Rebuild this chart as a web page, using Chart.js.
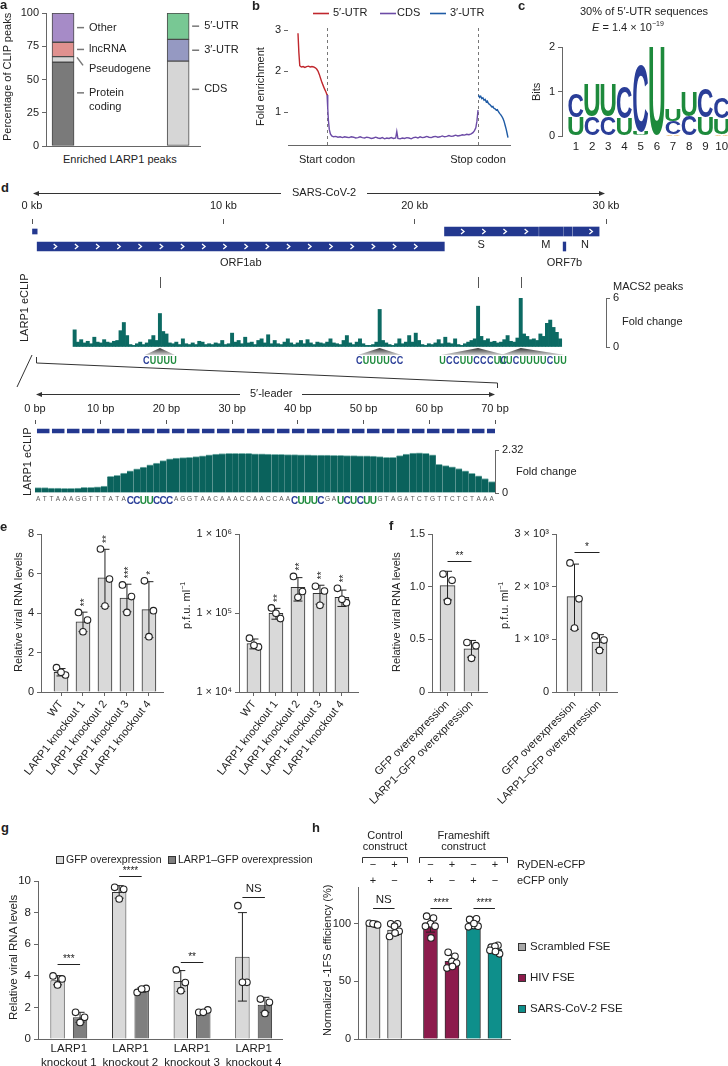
<!DOCTYPE html>
<html>
<head>
<meta charset="utf-8">
<script src="https://cdn.jsdelivr.net/npm/chart.js@4.4.1/dist/chart.umd.min.js"></script>
<style>
  body { margin: 0; background: #fff; }
  #fig { position: relative; width: 728px; height: 1066px; overflow: hidden; background: #fff;
         font-family: 'Liberation Sans', Arial, sans-serif; color: #222; }
  #fig canvas, #fig svg { position: absolute; }
  .t { position: absolute; white-space: nowrap; font-size: 11px; line-height: 1; }
  .t sup { font-size: 7px; }
</style>
</head>
<body>
<div id="fig"><svg id="deco" width="728" height="1066" style="left:0;top:0"></svg></div>
<script>
// ---------- a: enriched LARP1 peaks (% of CLIP peaks) ----------
const aLeftNames = ['Protein coding', 'Pseudogene', 'lncRNA', 'Other'];
const aLeftValues = [63, 4.2, 10.8, 22];
const aRightNames = ['CDS', '3′-UTR', '5′-UTR'];
const aRightValues = [63.8, 16.4, 19.8];

// ---------- b: metagene fold enrichment, [position %, value] ----------
const bCodonNames = ['Start codon', 'Stop codon'];
const bCodonPos = [17.6, 85.6];
const bUtr5 = [[4.5, 2.92], [4.9, 2.45], [5.3, 2.13], [6.0, 2.1], [6.8, 2.11], [7.6, 2.09], [8.4, 2.11], [9.2, 2.12],
  [10.0, 2.1], [10.8, 2.11], [11.6, 2.1], [12.3, 2.08], [12.9, 2.05], [13.5, 2.0], [14.1, 1.92], [14.7, 1.82],
  [15.3, 1.72], [15.9, 1.64], [16.5, 1.56], [17.1, 1.49], [17.6, 1.42]];
const bCds = [[17.6, 1.42], [17.9, 1.1], [18.2, 0.8], [18.6, 0.58], [19.1, 0.47], [19.7, 0.42], [20.5, 0.4], [21.5, 0.41],
  [22.5, 0.39], [23.5, 0.4], [24.5, 0.38], [25.5, 0.4], [26.5, 0.39], [27.5, 0.38], [28.5, 0.4], [29.5, 0.39],
  [30.5, 0.37], [31.5, 0.38], [32.5, 0.4], [33.5, 0.38], [34.5, 0.37], [35.5, 0.39], [36.5, 0.38], [37.5, 0.36],
  [38.5, 0.37], [39.5, 0.39], [40.5, 0.37], [41.5, 0.36], [42.5, 0.38], [43.5, 0.35], [44.5, 0.37], [45.5, 0.36],
  [46.5, 0.38], [47.5, 0.36], [48.5, 0.37], [49.0, 0.53], [49.5, 0.36], [50.5, 0.35], [51.5, 0.37], [52.5, 0.36],
  [53.5, 0.38], [54.5, 0.37], [55.5, 0.35], [56.5, 0.38], [57.5, 0.39], [58.5, 0.37], [59.5, 0.4], [60.5, 0.38],
  [61.5, 0.39], [62.5, 0.41], [63.5, 0.39], [64.5, 0.38], [65.5, 0.4], [66.5, 0.41], [67.5, 0.39], [68.5, 0.4],
  [69.5, 0.42], [70.5, 0.4], [71.5, 0.41], [72.5, 0.43], [73.5, 0.41], [74.5, 0.42], [75.5, 0.44], [76.5, 0.42],
  [77.5, 0.43], [78.5, 0.45], [79.5, 0.44], [80.5, 0.46], [81.5, 0.45], [82.5, 0.47], [83.3, 0.5], [84.0, 0.55],
  [84.6, 0.62], [85.1, 0.78], [85.6, 1.05]];
const bUtr3 = [[85.8, 1.42], [86.3, 1.36], [86.8, 1.39], [87.3, 1.33], [87.8, 1.35], [88.3, 1.29], [88.8, 1.31],
  [89.3, 1.25], [89.8, 1.27], [90.3, 1.21], [90.8, 1.19], [91.3, 1.16], [91.8, 1.13], [92.3, 1.14], [92.8, 1.09],
  [93.3, 1.08], [93.8, 1.05], [94.3, 1.06], [94.8, 1.01], [95.3, 0.97], [95.8, 0.94], [96.3, 0.9], [96.8, 0.85],
  [97.3, 0.78], [97.8, 0.68], [98.3, 0.58], [98.7, 0.48], [99.1, 0.38]];

// ---------- c: motif logo (bits), three stacked layers per position ----------
const logoBottomLetter = ['U', 'C', 'C', 'U', 'U', 'U', 'A', 'C', 'U', 'A'];
const logoBottomBits = [0.43, 0.43, 0.43, 0.40, 0.10, 2.0, 0.03, 0.45, 0.42, 0.03];
const logoMidLetter = ['C', 'U', 'U', 'C', 'C', '', 'C', 'U', 'C', 'U'];
const logoMidBits = [0.52, 0.74, 0.72, 0.70, 1.50, 0, 0.30, 0.55, 0.65, 0.36];
const logoTopLetter = ['', '', '', '', '', '', 'U', '', '', 'C'];
const logoTopBits = [0, 0, 0, 0, 0, 0, 0.27, 0, 0, 0.48];

// ---------- d: SARS-CoV-2 genome eCLIP ----------
const covBinKb = 0.2;
const covFold = [2.1, 0.6, 0.9, 0.5, 0.7, 0.4, 1.2, 0.6, 0.5, 0.9,
  0.6, 0.5, 0.7, 0.8, 2.0, 3.0, 1.4, 0.3, 0.2, 0.4,
  0.6, 0.3, 0.5, 0.9, 1.4, 0.8, 4.1, 1.9, 1.6, 0.5,
  0.4, 0.6, 0.3, 1.0, 0.4, 0.3, 0.5, 0.3, 0.7, 0.6,
  0.3, 0.4, 0.3, 0.5, 0.4, 0.8, 0.3, 0.4, 1.7, 0.6,
  0.8, 0.4, 1.2, 0.5, 0.6, 0.3, 0.8, 1.0, 0.5, 1.5,
  0.4, 0.8, 0.4, 0.3, 0.6, 1.0, 0.5, 0.3, 0.5, 0.8,
  0.4, 0.9, 0.5, 0.3, 0.6, 0.5, 0.4, 0.6, 1.0, 0.5,
  0.4, 0.3, 0.8, 1.4, 0.5, 0.3, 0.6, 1.0, 0.4, 0.2,
  0.2, 0.3, 0.6, 4.6, 0.8, 0.5, 0.3, 0.2, 0.4, 1.0,
  0.4, 0.6, 1.4, 0.6, 1.7, 0.8, 0.3, 0.2, 0.4, 0.3,
  0.5, 0.9, 0.4, 1.2, 0.5, 0.4, 1.0, 0.3, 0.2, 0.4,
  0.6, 0.8, 1.0, 5.0, 1.3, 0.8, 1.0, 0.6, 0.7, 0.5,
  0.6, 0.9, 1.4, 0.7, 0.6, 1.1, 6.0, 1.6, 1.3, 0.9,
  1.0, 0.8, 1.6, 1.3, 2.9, 3.3, 2.4, 1.8, 1.0];
const macsPeaksKb = [5.3, 24.7, 27.3];
const motifText = ['CUUUU', 'CUUUUCC', 'UCCUUCCCUC', 'UUCUUUUCUU'];
const motifPeakKb = [5.3, 18.7, 24.7, 27.3];
const motifTextKb = [5.3, 18.7, 24.4, 28.05];
const featStart = [0, 0.27, 21.56, 26.52, 27.8, 28.27, 27.76];
const featEnd = [0.27, 21.55, 26.47, 27.76, 28.22, 29.64, 27.9];
const featRow = ['top', 'bottom', 'top', 'top', 'top', 'top', 'bottom'];
const featThin = [true, false, false, false, false, false, false];
const geneNames = ['ORF1ab', 'S', 'M', 'ORF7b', 'N'];
const geneStart = [0.27, 21.56, 26.52, 27.76, 28.27];
const geneEnd = [21.55, 25.38, 27.19, 27.89, 29.53];
const geneRow = [1, 0, 0, 1, 0];

// ---------- d: 5'-leader ----------
const leaderSeq = 'ATTAAAGGTTTATA' + 'CCUUCCC' + 'AGGTAACAAACCAACCAA' + 'CUUUC' + 'GA' + 'UCUCUU' + 'GTAGATCTGTTCTCTAAA';
const leaderMotifs = [[14, 20], [39, 43], [46, 51]];
const leaderSpanBp = [0.3, 70];
const leaderCov = [0.29, 0.29, 0.27, 0.26, 0.25, 0.25, 0.27, 0.3, 0.31, 0.33, 0.37,
  0.9, 0.96, 1.08, 1.2, 1.3, 1.4, 1.52, 1.62, 1.75, 1.84, 1.88, 1.91, 1.93, 1.96, 2.0, 2.06, 2.1, 2.13,
  2.14, 2.14, 2.14, 2.14, 2.12, 2.11, 2.1, 2.09, 2.08, 2.07, 2.07, 2.06, 2.06, 2.05, 2.05, 2.04, 2.03,
  2.03, 2.02, 2.02, 2.01, 2.0, 1.99, 1.96, 1.92, 1.92, 2.02, 2.1, 2.16, 2.17, 2.14, 2.06,
  1.55, 1.48, 1.41, 1.32, 1.2, 1.06, 0.92, 0.78, 0.62];

// ---------- e ----------
const eCategories = ['WT', 'LARP1 knockout 1', 'LARP1 knockout 2', 'LARP1 knockout 3', 'LARP1 knockout 4'];
const eRnaMeans = [1.0, 3.55, 5.78, 4.76, 4.17];
const eRnaPoints = [[1.23, 0.86, 1.0], [4.03, 3.64, 3.05], [7.24, 5.72, 4.35], [5.42, 4.83, 4.03], [5.63, 4.12, 2.8]];
const eRnaStars = ['', '**', '**', '***', '*'];
const ePfuMeans = [41000, 99000, 211000, 177000, 158000];
const ePfuPoints = [[48000, 37000, 39000], [116000, 85000, 99000], [290000, 187000, 158000],
  [218000, 190000, 125000], [205000, 135000, 149000]];
const ePfuStars = ['', '**', '**', '**', '**'];

// ---------- f ----------
const fCategories = ['GFP overexpression', 'LARP1–GFP overexpression'];
const fRnaMeans = [1.01, 0.41];
const fRnaPoints = [[1.12, 1.06, 0.86], [0.47, 0.44, 0.32]];
const fPfuMeans = [1810, 947];
const fPfuPoints = [[2450, 1770, 1215], [1065, 985, 790]];
const fSigText = ['**', '*'];
const fSigAt = [1.24, 2650];

// ---------- g ----------
const gCategories = [['LARP1', 'knockout 1'], ['LARP1', 'knockout 2'], ['LARP1', 'knockout 3'], ['LARP1', 'knockout 4']];
const gSeries = ['GFP overexpression', 'LARP1–GFP overexpression'];
const gGfpMeans = [3.72, 9.31, 3.67, 5.2];
const gGfpPoints = [[3.99, 3.8, 3.42], [9.6, 9.47, 8.86], [4.37, 3.57, 3.06], [8.44, 3.59, 3.59]];
const gLarpMeans = [1.37, 3.1, 1.74, 2.16];
const gLarpPoints = [[1.69, 1.37, 1.05], [2.95, 3.2, 3.16], [1.69, 1.84, 1.69], [2.53, 2.32, 1.62]];
const gSigText = ['***', '****', '**', 'NS'];
const gSigAt = [4.75, 10.3, 4.85, 9.0];

// ---------- h ----------
const hFse = ['Scrambled FSE', 'HIV FSE', 'SARS-CoV-2 FSE'];
const hBarFse = [0, 0, 1, 1, 2, 2];
const hRyden = ['−', '+', '−', '+', '−', '+'];
const hEcfp = ['+', '−', '+', '−', '+', '−'];
const hMeans = [99.5, 94.5, 99.5, 67.5, 100, 78];
const hPoints = [[100.5, 99.5, 100, 99], [100, 100, 98, 93.5, 89, 92], [106.7, 105, 100, 98, 98, 87.8],
  [75.3, 71.8, 67.4, 66, 61.6, 63], [103.8, 104.4, 98.5, 98, 97.4, 100.3], [79.7, 81.4, 80.5, 74, 77, 76]];
const hConstructs = [{ name: ['Control', 'construct'], from: 0, to: 1 }, { name: ['Frameshift', 'construct'], from: 2, to: 5 }];
const hSigPairs = [[0, 1], [2, 3], [4, 5]];
const hSigText = ['NS', '****', '****'];
const hSigAt = 114;

// ================= drawing =================
const FONT = "'Liberation Sans', Arial, sans-serif";
const AX = '#666';
const C_BLUE = '#2a3e98', U_GREEN = '#1d8a3c';
const TEAL = '#0c6a63';
Chart.defaults.font.family = FONT;
Chart.defaults.font.size = 11;
Chart.defaults.color = '#222';
Chart.defaults.animation = false;
Chart.defaults.events = [];
Chart.defaults.plugins.legend.display = false;
Chart.defaults.plugins.tooltip.enabled = false;

const fig = document.getElementById('fig');
const svg = document.getElementById('deco');

// canvas at box [left, top, w, h]; plot area pinned at [left, top, right, bottom] (page px)
function place(box, plot, axes, config) {
  const cv = document.createElement('canvas');
  cv.width = box[2]; cv.height = box[3];
  cv.style.left = box[0] + 'px'; cv.style.top = box[1] + 'px';
  cv.style.width = box[2] + 'px'; cv.style.height = box[3] + 'px';
  fig.appendChild(cv);
  const size = { left: plot[0] - box[0], top: plot[1] - box[1], right: box[0] + box[2] - plot[2], bottom: box[1] + box[3] - plot[3] };
  const pad = { left: 0, top: 0, right: 0, bottom: 0 };
  ['left', 'top', 'right', 'bottom'].forEach(side => {
    const id = axes[side];
    if (!id) { pad[side] = size[side]; return; }
    config.options.scales[id].afterFit = s => {
      if (side === 'left' || side === 'right') s.width = size[side]; else s.height = size[side];
      s.paddingLeft = s.paddingRight = s.paddingTop = s.paddingBottom = 0;
    };
  });
  config.options.layout = { padding: pad, autoPadding: false };
  config.options.responsive = false;
  config.options.devicePixelRatio = 1;
  return new Chart(cv, config);
}

const NO_GRID = { display: false, drawTicks: false };
function axis(extra, ticks) {
  return Object.assign({
    border: { color: AX },
    grid: { drawOnChartArea: false, tickLength: 4, color: AX, offset: false },
    ticks: Object.assign({ padding: 3 }, ticks || {})
  }, extra);
}
function catX(labels, min, max, rot) {
  return axis({ type: 'linear', min, max, offset: false,
    afterBuildTicks: s => { s.ticks = labels.map((l, i) => ({ value: i })); } },
    { callback: v => labels[v], autoSkip: false, maxRotation: rot, minRotation: rot, padding: 2 });
}
function sd(a) {
  const m = a.reduce((p, c) => p + c, 0) / a.length;
  return Math.sqrt(a.reduce((p, c) => p + (c - m) * (c - m), 0) / (a.length - 1));
}
function dots(groups, xOf, unitPx, jit) {
  const out = [];
  groups.forEach((g, i) => g.forEach((v, k) => out.push({ x: xOf(i) + jit[k % jit.length] / unitPx, y: v })));
  return out;
}
const jit3 = [-4.5, 4.5, 0];
const jit6 = [-3.8, 3, 0, 4.6, -5, 0.5];
// dots are drawn above the bars (lower order is painted last)
const dotStyle = { type: 'scatter', order: 0, pointRadius: 3.3, pointBackgroundColor: '#fff', pointBorderColor: '#222', pointBorderWidth: 1.1 };
const barStyle = { order: 1, backgroundColor: '#d9d9d9', borderColor: '#333', borderWidth: 1 };

function errPlugin(ds, groups) {
  return { id: 'err' + ds, afterDatasetDraw(chart, args) {
    if (args.index !== ds) return;
    const ys = chart.scales.y, ctx = chart.ctx;
    ctx.save(); ctx.strokeStyle = '#222'; ctx.lineWidth = 1;
    chart.getDatasetMeta(ds).data.forEach((el, i) => {
      const m = chart.data.datasets[ds].data[i].y, s = sd(groups[i]);
      const top = ys.getPixelForValue(m + s), bot = ys.getPixelForValue(Math.max(m - s, ys.min));
      ctx.beginPath();
      ctx.moveTo(el.x, bot); ctx.lineTo(el.x, top);
      ctx.moveTo(el.x - 4.5, top); ctx.lineTo(el.x + 4.5, top);
      ctx.moveTo(el.x - 4.5, bot); ctx.lineTo(el.x + 4.5, bot);
      ctx.stroke();
    });
    ctx.restore();
  }};
}
function starPlugin(ds, groups, marks) {
  return { id: 'stars', afterDraw(chart) {
    const ctx = chart.ctx, ys = chart.scales.y;
    ctx.save(); ctx.fillStyle = '#222'; ctx.font = '10px ' + FONT; ctx.textAlign = 'left'; ctx.textBaseline = 'middle';
    chart.getDatasetMeta(ds).data.forEach((el, i) => {
      if (!marks[i]) return;
      const m = chart.data.datasets[ds].data[i].y;
      const top = Math.max(Math.max(...groups[i]), m + sd(groups[i]));
      ctx.save(); ctx.translate(el.x + 2, ys.getPixelForValue(top) - 6); ctx.rotate(-Math.PI / 2);
      ctx.fillText(marks[i], 0, 0); ctx.restore();
    });
    ctx.restore();
  }};
}
function sigPlugin(items) {
  return { id: 'sig', afterDraw(chart) {
    const ctx = chart.ctx, xs = chart.scales.x, ys = chart.scales.y;
    ctx.save(); ctx.strokeStyle = '#222'; ctx.fillStyle = '#222'; ctx.lineWidth = 1;
    ctx.textAlign = 'center'; ctx.textBaseline = 'bottom';
    items.forEach(s => {
      const x0 = xs.getPixelForValue(s.x0), x1 = xs.getPixelForValue(s.x1);
      const y = Math.round(ys.getPixelForValue(s.at)) + 0.5;
      ctx.beginPath(); ctx.moveTo(x0, y); ctx.lineTo(x1, y); ctx.stroke();
      ctx.font = (s.text === 'NS' ? '11.5px ' : '10px ') + FONT;
      ctx.fillText(s.text, (x0 + x1) / 2, y - (s.text === 'NS' ? 3 : 0));
    });
    ctx.restore();
  }};
}

// ---------- a ----------
const aLeftColors = ['#7a7a7a', '#d5d5d5', '#e0918f', '#a68bc7'];
const aRightColors = ['#d6d6d6', '#9599c2', '#78c894'];
const aLabels = { id: 'alab', afterDatasetsDraw(chart) {
  const ctx = chart.ctx;
  ctx.save();
  ctx.font = '11px ' + FONT; ctx.fillStyle = '#222'; ctx.textBaseline = 'middle';
  ctx.strokeStyle = '#777'; ctx.lineWidth = 1.5;
  chart.data.datasets.forEach((ds, i) => {
    const el = chart.getDatasetMeta(i).data[0];
    const mid = (el.y + el.base) / 2, r = el.x + el.width / 2;
    let ty = mid;
    ctx.beginPath();
    if (ds.label === 'Pseudogene') { ctx.moveTo(r + 3, mid - 2); ctx.lineTo(r + 9, mid + 6); ty = mid + 10; }
    else {
      if (ds.label === 'Protein coding') ty = mid - 11;
      if (ds.label === 'CDS') ty = mid - 14;
      ctx.moveTo(r + 3, ty); ctx.lineTo(r + 10, ty);
    }
    ctx.stroke();
    const lines = ds.label === 'Protein coding' ? ['Protein', 'coding'] : [ds.label];
    lines.forEach((s, k) => ctx.fillText(s, r + 15, ty + k * 14));
  });
  ctx.restore();
}};
place([0, 0, 240, 152], [46, 13, 200, 146], { left: 'y', bottom: 'x' }, {
  type: 'bar',
  data: { datasets: [
    ...aLeftValues.map((v, i) => ({ label: aLeftNames[i], data: [{ x: 1, y: v }], backgroundColor: aLeftColors[i] })),
    ...aRightValues.map((v, i) => ({ label: aRightNames[i], data: [{ x: 2, y: v }], backgroundColor: aRightColors[i] }))
  ]},
  options: {
    datasets: { bar: { barThickness: 22, borderColor: '#4a4a4a', borderWidth: 1, borderSkipped: false } },
    scales: {
      x: { type: 'linear', min: 0.852, max: 2.19, stacked: true, offset: false, ticks: { display: false }, grid: NO_GRID, border: { color: AX } },
      y: axis({ stacked: true, min: 0, max: 100 }, { stepSize: 25 })
    }
  },
  plugins: [aLabels]
});

// ---------- b ----------
const codonLines = { id: 'codon', beforeDatasetsDraw(chart) {
  const ctx = chart.ctx, xs = chart.scales.x, a = chart.chartArea;
  ctx.save(); ctx.strokeStyle = '#777'; ctx.lineWidth = 1; ctx.setLineDash([3, 3]);
  bCodonPos.forEach(p => { const x = Math.round(xs.getPixelForValue(p)) + 0.5; ctx.beginPath(); ctx.moveTo(x, a.top); ctx.lineTo(x, a.bottom); ctx.stroke(); });
  ctx.restore();
}};
const toXY = p => ({ x: p[0], y: p[1] });
place([235, 0, 285, 172], [288, 28, 510, 145], { left: 'y', bottom: 'x' }, {
  type: 'line',
  data: { datasets: [
    { data: bUtr5.map(toXY), borderColor: '#c0272d' },
    { data: bCds.map(toXY), borderColor: '#6c4ba6' },
    { data: bUtr3.map(toXY), borderColor: '#1f5ba5' }
  ]},
  options: {
    elements: { point: { radius: 0 }, line: { borderWidth: 1.4, tension: 0 } },
    scales: {
      x: { type: 'linear', min: 0, max: 100,
        afterBuildTicks: s => { s.ticks = bCodonPos.map(v => ({ value: v })); },
        ticks: { callback: (v, i) => bCodonNames[i], padding: 8, maxRotation: 0, autoSkip: false },
        grid: NO_GRID, border: { color: AX } },
      y: { min: 0.2, max: 3.05,
        afterBuildTicks: s => { s.ticks = [1, 2, 3].map(v => ({ value: v })); },
        border: { display: false }, grid: { drawOnChartArea: false, tickLength: 4, color: AX }, ticks: { padding: 3 } }
    }
  },
  plugins: [codonLines]
});

// ---------- c ----------
const logoLayers = [[logoBottomLetter, logoBottomBits], [logoMidLetter, logoMidBits], [logoTopLetter, logoTopBits]];
const logoColors = { C: C_BLUE, U: U_GREEN, A: '#e6a23a', G: '#e6a23a' };
const logoGlyphs = { id: 'logo', afterDatasetsDraw(chart) {
  const ctx = chart.ctx;
  ctx.save();
  ctx.font = 'bold 100px ' + FONT; ctx.textAlign = 'left'; ctx.textBaseline = 'alphabetic';
  logoLayers.forEach(([letters], d) => {
    chart.getDatasetMeta(d).data.forEach((el, i) => {
      const L = letters[i]; if (!L) return;
      const h = el.base - el.y; if (h < 0.5) return;
      const m = ctx.measureText(L);
      const gw = m.actualBoundingBoxLeft + m.actualBoundingBoxRight;
      const gh = m.actualBoundingBoxAscent + m.actualBoundingBoxDescent;
      ctx.save();
      ctx.translate(el.x - el.width / 2, el.y);
      ctx.scale(el.width / gw, h / gh);
      ctx.fillStyle = logoColors[L];
      ctx.fillText(L, m.actualBoundingBoxLeft, m.actualBoundingBoxAscent);
      ctx.restore();
    });
  });
  ctx.restore();
}};
place([515, 0, 213, 155], [562, 47, 727, 136], { left: 'y', bottom: 'x' }, {
  type: 'bar',
  data: { datasets: logoLayers.map(([letters, bits]) => ({
    data: bits.map((b, i) => ({ x: i + 1, y: b })), backgroundColor: 'rgba(0,0,0,0)', barThickness: 15 })) },
  options: {
    scales: {
      x: { type: 'linear', min: 0.143, max: 10.33, stacked: true, offset: false,
        afterBuildTicks: s => { s.ticks = logoBottomBits.map((b, i) => ({ value: i + 1 })); },
        grid: NO_GRID, border: { display: false },
        ticks: { padding: 4, autoSkip: false, maxRotation: 0, minRotation: 0, font: { size: 11.5 } } },
      y: axis({ stacked: true, min: 0, max: 2 }, { stepSize: 1 })
    }
  },
  plugins: [logoGlyphs]
});

// ---------- d: gene track ----------
const geneDecor = { id: 'genes', afterDatasetsDraw(chart) {
  const ctx = chart.ctx, xs = chart.scales.x, ys = chart.scales.y;
  ctx.save();
  ctx.strokeStyle = '#fff'; ctx.lineWidth = 1.3;
  chart.getDatasetMeta(1).data.forEach(el => {
    const l = Math.min(el.x, el.base), r = Math.max(el.x, el.base);
    for (let x = l + 18; x < r - 8; x += 21.2) {
      ctx.beginPath(); ctx.moveTo(x - 1.5, el.y - 2.5); ctx.lineTo(x + 1.5, el.y); ctx.lineTo(x - 1.5, el.y + 2.5); ctx.stroke();
    }
  });
  ctx.fillStyle = '#222'; ctx.font = '11px ' + FONT; ctx.textAlign = 'center'; ctx.textBaseline = 'middle';
  geneNames.forEach((n, i) => {
    const x = xs.getPixelForValue((geneStart[i] + geneEnd[i]) / 2);
    const y = ys.getPixelForValue(geneRow[i] + 1) + (geneRow[i] === 0 ? -2 : 1.5);
    ctx.fillText(n, x, y);
  });
  ctx.restore();
}};
const featData = thin => featStart.map((s, i) => ({ x: [s, featEnd[i]], y: featRow[i], thin: featThin[i] }))
  .filter(f => f.thin === thin).map(f => ({ x: f.x, y: f.y }));
place([0, 200, 728, 75], [32, 224, 606, 254], { top: 'x' }, {
  type: 'bar',
  data: { labels: ['top', 'bottom'], datasets: [
    { data: featData(true), backgroundColor: '#23388f', barThickness: 5, grouped: false },
    { data: featData(false), backgroundColor: '#23388f', barThickness: 9, grouped: false }
  ]},
  options: {
    indexAxis: 'y',
    scales: {
      x: { type: 'linear', position: 'top', min: 0, max: 30,
        ticks: { stepSize: 10, callback: v => v + ' kb', padding: 6, maxRotation: 0 },
        grid: { drawOnChartArea: false, tickLength: 5, color: '#555' }, border: { display: false } },
      y: { type: 'category', display: false }
    }
  },
  plugins: [geneDecor]
});

// ---------- d: genome coverage ----------
const covDecor = { id: 'cov', afterDraw(chart) {
  const ctx = chart.ctx, xs = chart.scales.x, a = chart.chartArea;
  ctx.save();
  ctx.strokeStyle = '#555'; ctx.lineWidth = 1;
  macsPeaksKb.forEach(k => {
    const x = Math.round(xs.getPixelForValue(k)) + 0.5;
    ctx.beginPath(); ctx.moveTo(x, a.top - 21); ctx.lineTo(x, a.top - 10); ctx.stroke();
  });
  motifText.forEach((m, i) => {
    const px = xs.getPixelForValue(motifPeakKb[i]), cx = xs.getPixelForValue(motifTextKb[i]);
    const adv = 6.8, w = m.length * adv, l = cx - w / 2;
    const g = ctx.createLinearGradient(0, a.bottom + 1, 0, a.bottom + 8);
    g.addColorStop(0, '#333'); g.addColorStop(1, '#d4d4d4');
    ctx.fillStyle = g;
    ctx.beginPath(); ctx.moveTo(px, a.bottom + 1); ctx.lineTo(l + 2, a.bottom + 8); ctx.lineTo(l + w - 2, a.bottom + 8); ctx.closePath(); ctx.fill();
    ctx.font = 'bold 11px ' + FONT; ctx.textAlign = 'center'; ctx.textBaseline = 'middle';
    m.split('').forEach((c, k) => {
      ctx.save(); ctx.translate(l + adv * (k + 0.5), a.bottom + 14); ctx.scale(0.82, 1);
      ctx.fillStyle = c === 'C' ? C_BLUE : U_GREEN; ctx.fillText(c, 0, 0); ctx.restore();
    });
  });
  ctx.restore();
}};
place([0, 275, 728, 95], [32, 298, 606, 347], { right: 'y' }, {
  type: 'bar',
  data: { datasets: [{ data: covFold.map((v, i) => ({ x: (i + 0.5) * covBinKb, y: v })), backgroundColor: TEAL,
    barPercentage: 1, categoryPercentage: 1 }] },
  options: {
    scales: {
      x: { type: 'linear', min: 0, max: 30, display: false },
      y: axis({ position: 'right', min: 0, max: 6, afterBuildTicks: s => { s.ticks = [{ value: 0 }, { value: 6 }]; } }, {})
    }
  },
  plugins: [covDecor]
});

// ---------- d: 5'-leader track ----------
place([0, 398, 728, 42], [35, 424, 495, 438], { top: 'x' }, {
  type: 'line',
  data: { datasets: [{ data: leaderSpanBp.map(v => ({ x: v, y: 0 })), borderColor: '#23388f', borderWidth: 4.5,
    borderDash: [12.5, 2.5], borderCapStyle: 'butt', pointRadius: 0 }] },
  options: {
    scales: {
      x: { type: 'linear', position: 'top', min: 0, max: 70,
        ticks: { stepSize: 10, callback: v => v + ' bp', padding: 4, maxRotation: 0 },
        grid: { drawOnChartArea: false, tickLength: 4, color: '#555' }, border: { display: false } },
      y: { min: -1, max: 1, display: false }
    }
  }
});

// ---------- d: 5'-leader coverage ----------
const inMotif = i => leaderMotifs.some(([s, e]) => i >= s && i <= e);
place([0, 440, 728, 75], [35, 450, 495, 493], { right: 'y', bottom: 'x' }, {
  type: 'bar',
  data: { labels: leaderSeq.split(''), datasets: [{ data: leaderCov, backgroundColor: '#0a625c',
    borderColor: '#7db3ad', borderWidth: { top: 1, left: 0, right: 0, bottom: 0 }, borderSkipped: false,
    barPercentage: 1, categoryPercentage: 1 }] },
  options: {
    scales: {
      x: { grid: NO_GRID, border: { display: false },
        ticks: { autoSkip: false, maxRotation: 0, minRotation: 0, padding: 2,
          font: c => inMotif(c.index) ? { size: 10, weight: 'bold' } : { size: 6.5 },
          color: c => inMotif(c.index) ? (leaderSeq[c.index] === 'C' ? C_BLUE : U_GREEN) : '#555' } },
      y: axis({ position: 'right', min: 0, max: 2.32, afterBuildTicks: s => { s.ticks = [{ value: 0 }, { value: 2.32 }]; } },
        { callback: v => v === 0 ? '0' : '2.32' })
    }
  }
});

// ---------- e ----------
const sup = { '-': '⁻', '0': '⁰', '1': '¹', '2': '²', '3': '³', '4': '⁴', '5': '⁵', '6': '⁶' };
const toSup = s => String(s).split('').map(c => sup[c] || c).join('');
place([0, 525, 205, 282], [41, 534, 163, 692], { left: 'y', bottom: 'x' }, {
  type: 'bar',
  data: { datasets: [
    Object.assign({ data: eRnaMeans.map((v, i) => ({ x: i, y: v })), barThickness: 14 }, barStyle),
    Object.assign({ data: dots(eRnaPoints, i => i, 21.98, jit3) }, dotStyle)
  ]},
  options: { scales: { x: catX(eCategories, -0.91, 4.64, 52), y: axis({ min: 0, max: 8 }, { stepSize: 2 }) } },
  plugins: [errPlugin(0, eRnaPoints), starPlugin(0, eRnaPoints, eRnaStars)]
});
place([175, 525, 205, 282], [239, 534, 358, 692], { left: 'y', bottom: 'x' }, {
  type: 'bar',
  data: { datasets: [
    Object.assign({ data: ePfuMeans.map((v, i) => ({ x: i, y: v })), barThickness: 14 }, barStyle),
    Object.assign({ data: dots(ePfuPoints, i => i, 22.0, jit3) }, dotStyle)
  ]},
  options: { scales: {
    x: catX(eCategories, -0.68, 4.73, 52),
    y: axis({ type: 'logarithmic', min: 1e4, max: 1e6,
      afterBuildTicks: s => { s.ticks = [1e4, 1e5, 1e6].map(v => ({ value: v })); } },
      { callback: v => '1 × 10' + toSup(Math.round(Math.log10(v))) })
  } },
  plugins: [errPlugin(0, ePfuPoints), starPlugin(0, ePfuPoints, ePfuStars)]
});

// ---------- f ----------
place([330, 525, 170, 282], [432, 534, 487, 692], { left: 'y', bottom: 'x' }, {
  type: 'bar',
  data: { datasets: [
    Object.assign({ data: fRnaMeans.map((v, i) => ({ x: i, y: v })), barThickness: 15 }, barStyle),
    Object.assign({ data: dots(fRnaPoints, i => i, 23.9, jit3) }, dotStyle)
  ]},
  options: { scales: { x: catX(fCategories, -0.65, 1.65, 45),
    y: axis({ min: 0, max: 1.5 }, { stepSize: 0.5, callback: v => v === 0 ? '0' : v.toFixed(1) }) } },
  plugins: [errPlugin(0, fRnaPoints), sigPlugin([{ x0: 0, x1: 1, at: fSigAt[0], text: fSigText[0] }])]
});
place([455, 525, 175, 282], [556, 534, 617, 692], { left: 'y', bottom: 'x' }, {
  type: 'bar',
  data: { datasets: [
    Object.assign({ data: fPfuMeans.map((v, i) => ({ x: i, y: v })), barThickness: 15 }, barStyle),
    Object.assign({ data: dots(fPfuPoints, i => i, 25.0, jit3) }, dotStyle)
  ]},
  options: { scales: { x: catX(fCategories, -0.74, 1.7, 45),
    y: axis({ min: 0, max: 3000 }, { stepSize: 1000, callback: v => v === 0 ? '0' : (v / 1000) + ' × 10³' }) } },
  plugins: [errPlugin(0, fPfuPoints), sigPlugin([{ x0: 0, x1: 1, at: fSigAt[1], text: fSigText[1] }])]
});

// ---------- g ----------
const gCat = 0.73, gOff = gCat / 4;
place([0, 840, 300, 226], [38, 881, 282, 1039], { left: 'y', bottom: 'x' }, {
  type: 'bar',
  data: { datasets: [
    Object.assign({ label: gSeries[0], data: gGfpMeans.map((v, i) => ({ x: i, y: v })) }, barStyle),
    Object.assign({ label: gSeries[1], data: gLarpMeans.map((v, i) => ({ x: i, y: v })) }, barStyle, { backgroundColor: '#7f7f7f' }),
    Object.assign({ data: dots(gGfpPoints, i => i - gOff, 61.6, jit3) }, dotStyle),
    Object.assign({ data: dots(gLarpPoints, i => i + gOff, 61.6, jit3) }, dotStyle)
  ]},
  options: {
    datasets: { bar: { categoryPercentage: gCat, barPercentage: 0.64 } },
    scales: {
      x: { type: 'linear', min: -0.5, max: 3.46, offset: false,
        afterBuildTicks: s => { s.ticks = gCategories.map((c, i) => ({ value: i })); },
        ticks: { callback: v => gCategories[v], autoSkip: false, maxRotation: 0, padding: 3, font: { size: 11.5 } },
        grid: NO_GRID, border: { color: AX } },
      y: axis({ min: 0, max: 10 }, { stepSize: 2, font: { size: 11.5 } })
    }
  },
  plugins: [errPlugin(0, gGfpPoints), errPlugin(1, gLarpPoints),
    sigPlugin(gSigText.map((t, i) => ({ x0: i - gOff, x1: i + gOff, at: gSigAt[i], text: t })))]
});

// ---------- h ----------
const hGap = 0.67;
const hX = i => i + (i >= 2 ? hGap : 0);
const hColors = ['#d9d9d9', '#8c1b4c', '#0e8f8b'];
const hHeader = { id: 'hhead', afterDraw(chart) {
  const ctx = chart.ctx, xs = chart.scales.x, a = chart.chartArea;
  ctx.save(); ctx.fillStyle = '#222'; ctx.strokeStyle = '#333'; ctx.lineWidth = 1;
  ctx.textAlign = 'center'; ctx.textBaseline = 'middle'; ctx.font = '11px ' + FONT;
  hConstructs.forEach(g => {
    const x0 = Math.round(xs.getPixelForValue(hX(g.from)) - 11) + 0.5, x1 = Math.round(xs.getPixelForValue(hX(g.to)) + 12) + 0.5;
    ctx.beginPath(); ctx.moveTo(x0, a.top - 24); ctx.lineTo(x0, a.top - 29.5); ctx.lineTo(x1, a.top - 29.5); ctx.lineTo(x1, a.top - 24); ctx.stroke();
    ctx.fillText(g.name[0], (x0 + x1) / 2, a.top - 51);
    ctx.fillText(g.name[1], (x0 + x1) / 2, a.top - 40);
  });
  hRyden.forEach((s, i) => ctx.fillText(s, xs.getPixelForValue(hX(i)), a.top - 22));
  hEcfp.forEach((s, i) => ctx.fillText(s, xs.getPixelForValue(hX(i)), a.top - 6));
  ctx.textAlign = 'left';
  ctx.fillText('RyDEN-eCFP', a.right + 7, a.top - 22);
  ctx.fillText('eCFP only', a.right + 7, a.top - 6);
  ctx.restore();
}};
place([300, 820, 320, 246], [358, 887, 510, 1039], { left: 'y', bottom: 'x' }, {
  type: 'bar',
  data: { datasets: [
    Object.assign({}, barStyle, { data: hMeans.map((v, i) => ({ x: hX(i), y: v })), barThickness: 14,
      backgroundColor: hBarFse.map(k => hColors[k]) }),
    Object.assign({ data: dots(hPoints, hX, 21.5, jit6) }, dotStyle)
  ]},
  options: { scales: {
    x: { type: 'linear', min: -0.7, max: 6.37, offset: false, ticks: { display: false }, grid: NO_GRID, border: { color: AX } },
    y: axis({ min: 0, max: 132, afterBuildTicks: s => { s.ticks = [0, 50, 100].map(v => ({ value: v })); } }, {})
  } },
  plugins: [errPlugin(0, hPoints), hHeader,
    sigPlugin(hSigPairs.map((p, i) => ({ x0: hX(p[0]), x1: hX(p[1]), at: hSigAt, text: hSigText[i] })))]
});

// ================= text and decorations =================
// whole-pixel placement keeps the rotated labels crisp
function txt(html, x, y, o = {}) {
  const d = document.createElement('div');
  d.className = 't';
  d.innerHTML = html;
  if (o.size) d.style.fontSize = o.size + 'px';
  if (o.bold) d.style.fontWeight = 'bold';
  fig.appendChild(d);
  const w = d.offsetWidth, h = d.offsetHeight;
  const cx = Math.round(w / 2), cy = Math.round(h / 2);
  d.style.left = (o.anchor === 'left' ? Math.round(x) : Math.round(x) - cx) + 'px';
  d.style.top = (Math.round(y) - cy) + 'px';
  if (o.rot) { d.style.transformOrigin = `${cx}px ${cy}px`; d.style.transform = `rotate(${o.rot}deg)`; }
}
const NS = 'http://www.w3.org/2000/svg';
function svgEl(tag, attrs) { const e = document.createElementNS(NS, tag); for (const k in attrs) e.setAttribute(k, attrs[k]); svg.appendChild(e); return e; }
function pl(points, stroke, w) { svgEl('polyline', { points, fill: 'none', stroke: stroke || '#333', 'stroke-width': w || 1 }); }
function arrowLine(x0, x1, y, g0, g1) {
  pl(`${x0},${y} ${g0},${y}`); pl(`${g1},${y} ${x1},${y}`);
  svgEl('polygon', { points: `${x0 - 1},${y} ${x0 + 5},${y - 2.5} ${x0 + 5},${y + 2.5}`, fill: '#333' });
  svgEl('polygon', { points: `${x1 + 1},${y} ${x1 - 5},${y - 2.5} ${x1 - 5},${y + 2.5}`, fill: '#333' });
}

// panel letters
[['a', 4, 5], ['b', 256, 6], ['c', 522, 6], ['d', 5, 188], ['e', 4, 527], ['f', 391, 526], ['g', 5, 828], ['h', 316, 828]]
  .forEach(([s, x, y]) => txt(s, x, y, { bold: true, size: 13 }));

// a
txt('Percentage of CLIP peaks', 8, 77, { rot: -90 });
txt('Enriched LARP1 peaks', 120, 160);
// b
txt('Fold enrichment', 261, 86, { rot: -90 });
[['5′-UTR', '#c0272d', 313, 333], ['CDS', '#6c4ba6', 380, 397], ['3′-UTR', '#1f5ba5', 430, 450]].forEach(([s, c, x, tx]) => {
  pl(`${x},13.5 ${x + 16},13.5`, c, 1.6);
  txt(s, tx, 13, { anchor: 'left' });
});
// c
txt('30% of 5′-UTR sequences', 644, 12);
txt('<i>E</i> = 1.4 × 10<sup>−19</sup>', 628, 27);
txt('Bits', 537, 92, { rot: -90 });
// d
arrowLine(34, 604, 193.5, 281, 367);
txt('SARS-CoV-2', 324, 193);
txt('LARP1 eCLIP', 25, 308, { rot: -90 });
txt('MACS2 peaks', 613, 287, { anchor: 'left' });
txt('Fold change', 622, 322, { anchor: 'left' });
pl('32,355 17,387');
pl('36.5,357 36.5,363 497.5,383 497.5,388');
arrowLine(37, 494, 394.5, 240, 302);
txt('5′-leader', 271, 394);
txt('LARP1 eCLIP', 28, 462, { rot: -90 });
txt('Fold change', 516, 472, { anchor: 'left' });
// e, f
txt('Relative viral RNA levels', 19, 612, { rot: -90 });
txt('p.f.u. ml<sup>−1</sup>', 186, 605, { rot: -90 });
txt('Relative viral RNA levels', 397, 612, { rot: -90 });
txt('p.f.u. ml<sup>−1</sup>', 504, 605, { rot: -90 });
// g
txt('Relative viral RNA levels', 14, 957, { rot: -90, size: 11.5 });
svgEl('rect', { x: 56.5, y: 856.5, width: 7, height: 7, fill: '#d9d9d9', stroke: '#333' });
txt(gSeries[0], 66, 860, { anchor: 'left', size: 10.5 });
svgEl('rect', { x: 168.5, y: 856.5, width: 7, height: 7, fill: '#7f7f7f', stroke: '#333' });
txt(gSeries[1], 178, 860, { anchor: 'left', size: 10.5 });
// h
txt('Normalized -1FS efficiency (%)', 328, 960, { rot: -90 });
const hLegendSwatch = ['#a8a8a8', '#8c1b4c', '#0e8f8b'];
hFse.forEach((s, i) => {
  const y = 947 + i * 31;
  svgEl('rect', { x: 518.5, y: y - 3.5, width: 7, height: 7, fill: hLegendSwatch[i], stroke: '#333' });
  txt(s, 530, y, { anchor: 'left', size: 11.5 });
});
</script>
</body>
</html>
